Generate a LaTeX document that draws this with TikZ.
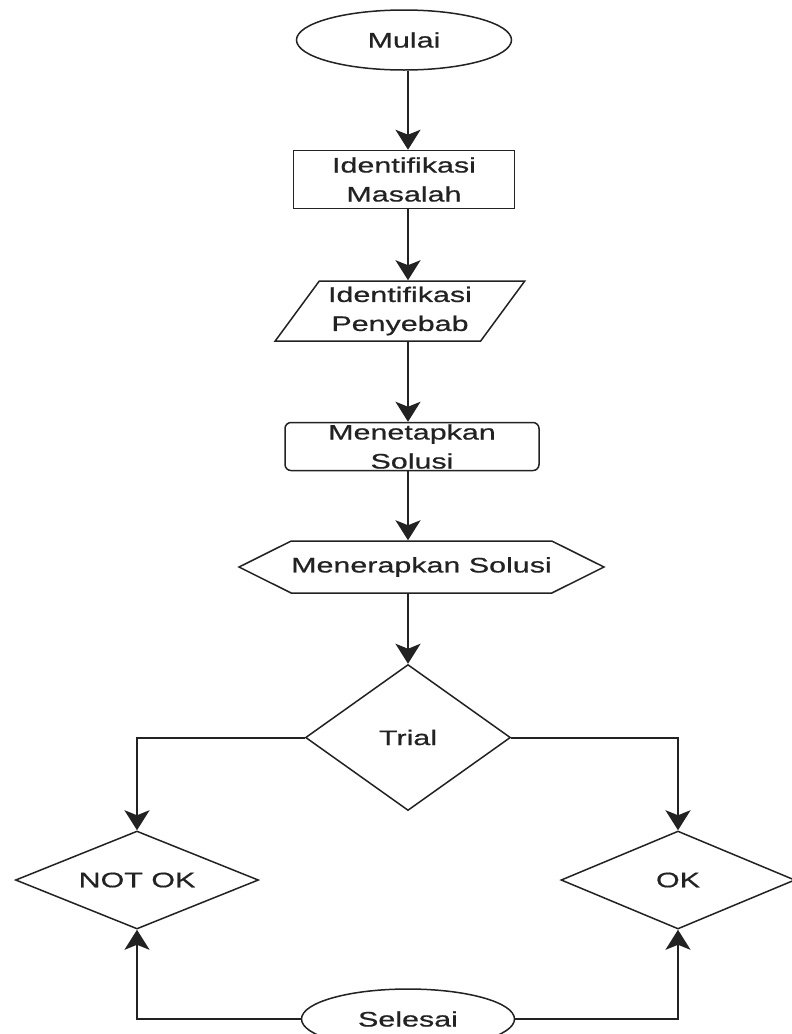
\documentclass[tikz,border=0pt]{standalone}
\usepackage{fontspec}
\setmainfont{Liberation Sans}[FakeStretch=1.45, FakeBold=0.6]
\usetikzlibrary{arrows.meta,positioning,shapes.geometric,shapes.symbols}
\definecolor{ink}{HTML}{222222}

\begin{document}
\begin{tikzpicture}[
  node distance=0pt,
  every node/.style={font=\fontsize{21}{29}\selectfont, text=ink, inner sep=0pt, align=center},
  term/.style={draw=ink, fill=white, ellipse, line width=1.5pt, minimum width=215pt, minimum height=60pt},
  proc/.style={draw=ink, fill=white, rectangle, line width=1.5pt, minimum width=221pt, minimum height=58pt},
  inout/.style={draw=ink, fill=white, trapezium, trapezium left angle=51, trapezium right angle=129,
                trapezium stretches=true, line width=1.5pt, minimum width=250pt, minimum height=60pt},
  soft/.style={draw=ink, fill=white, rectangle, rounded corners=6pt, line width=1.5pt,
               minimum width=254pt, minimum height=48pt},
  prep/.style={draw=ink, fill=white, signal, signal to=west and east, signal pointer angle=53,
               line width=1.5pt, minimum width=311pt, minimum height=52pt},
  decide/.style={draw=ink, fill=white, diamond, line width=1.5pt},
  arr/.style={-{Stealth[length=20pt, width=25pt, inset=5pt]}, draw=ink, line width=2pt}]

\useasboundingbox[fill=white] (0,0) rectangle (792pt,-1034pt);

\node[term] (mulai) at (404pt,-40pt) {Mulai};
\node[proc, below=79pt of mulai] (masalah) {Identifikasi\\Masalah};
\node[inout, below=71pt of masalah, xshift=-4pt] (penyebab) {Identifikasi\\Penyebab};
\node[soft, below=80pt of penyebab, xshift=12pt] (tetapkan) {Menetapkan\\Solusi};
\node[prep, below=69pt of tetapkan, xshift=9.5pt] (terapkan) {Menerapkan Solusi};
\node[decide, minimum width=205pt, minimum height=146pt, aspect=1.4,
      below=70pt of terapkan, xshift=-13.5pt] (trial) {Trial};
\node[decide, minimum width=243pt, minimum height=98pt, aspect=2.5,
      below=19pt of trial, xshift=-271pt] (notok) {NOT OK};
\node[decide, minimum width=234pt, minimum height=98pt, aspect=2.4,
      below=19pt of trial, xshift=270pt] (ok) {OK};
\node[term, minimum width=213pt, below=177pt of trial] (selesai) {Selesai};

\draw[arr] (mulai.south -| trial) -- (masalah.north -| trial);
\draw[arr] (masalah.south -| trial) -- (penyebab.north -| trial);
\draw[arr] (penyebab.south -| trial) -- (tetapkan.north -| trial);
\draw[arr] (tetapkan.south -| trial) -- (terapkan.north -| trial);
\draw[arr] (terapkan.south -| trial) -- (trial.north);
\draw[arr] (trial.west) -| (notok.north);
\draw[arr] (trial.east) -| (ok.north);
\draw[arr] (selesai.west) -| (notok.south);
\draw[arr] (selesai.east) -| (ok.south);
\end{tikzpicture}
\end{document}
